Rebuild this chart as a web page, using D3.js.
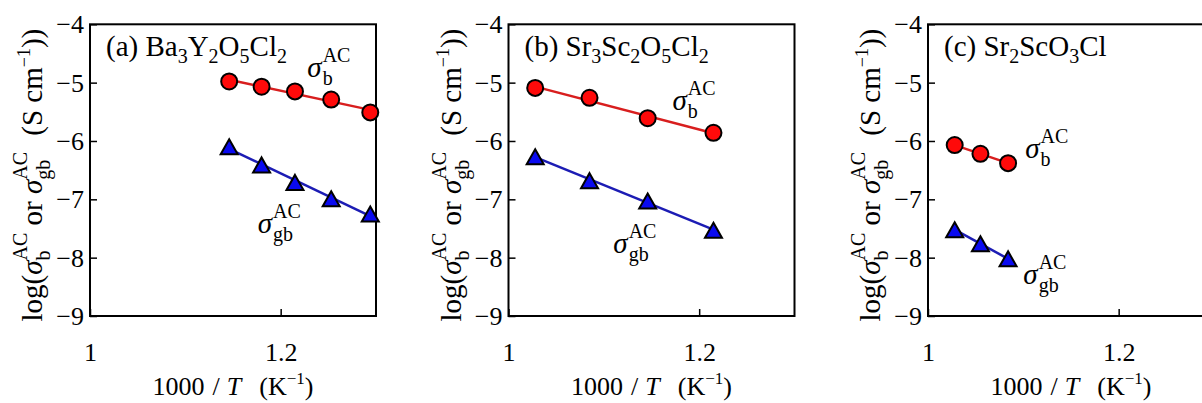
<!DOCTYPE html>
<html>
<head>
<meta charset="utf-8">
<script src="https://cdn.jsdelivr.net/npm/d3@7"></script>
<style>
html,body{margin:0;padding:0;background:#fff;overflow:hidden;}
svg{display:block;}
text{font-family:"Liberation Serif","Times New Roman",serif;fill:#000;}
</style>
</head>
<body>
<svg id="chart" width="1202" height="403"></svg>
<script>
// ---------- data ----------
const xTicks = [1, 1.2];
const xTickLabels = ["1", "1.2"];
const yTicks = [-4, -5, -6, -7, -8, -9];
const yTickLabels = ["\u22124", "\u22125", "\u22126", "\u22127", "\u22128", "\u22129"];

const titlesA = [["(a) Ba",""],["3","sub"],["Y",""],["2","sub"],["O",""],["5","sub"],["Cl",""],["2","sub"]];
const titlesB = [["(b) Sr",""],["3","sub"],["Sc",""],["2","sub"],["O",""],["5","sub"],["Cl",""],["2","sub"]];
const titlesC = [["(c) Sr",""],["2","sub"],["ScO",""],["3","sub"],["Cl",""]];

const xA = [1.146, 1.180, 1.215, 1.253, 1.294];
const bulkA = [-4.98, -5.07, -5.15, -5.29, -5.51];
const gbA = [-6.10, -6.41, -6.71, -6.99, -7.25];

const xB = [1.028, 1.085, 1.146, 1.215];
const bulkB = [-5.09, -5.26, -5.61, -5.86];
const gbB = [-6.27, -6.68, -7.03, -7.53];

const xC = [1.028, 1.055, 1.084];
const bulkC = [-6.07, -6.22, -6.38];
const gbC = [-7.52, -7.76, -8.02];

// label anchors (data units): [x, y] for sigma_b and sigma_gb
const labelB = [[1.228, -4.90], [1.172, -5.47], [1.102, -6.29]];
const labelGB = [[1.176, -7.57], [1.110, -7.92], [1.100, -8.46]];

const panels = [
  {title: titlesA, x: xA, bulk: bulkA, gb: gbA, lb: labelB[0], lgb: labelGB[0]},
  {title: titlesB, x: xB, bulk: bulkB, gb: gbB, lb: labelB[1], lgb: labelGB[1]},
  {title: titlesC, x: xC, bulk: bulkC, gb: gbC, lb: labelB[2], lgb: labelGB[2]}
];

// ---------- layout ----------
const panelLeft = [90, 508.5, 928];
const pw = 286, plotTop = 24.3, plotBottom = 316;
const FONT = "Liberation Serif";
const RED = "#ff0a0a", REDLINE = "#d81e1e", BLUE = "#0a0af0", BLUELINE = "#1c1cb4";

const svg = d3.select("#chart");
svg.append("rect").attr("width", 1202).attr("height", 403).attr("fill", "#fff");

// one <text> element with positioned tspans
function rich(g, x, y, segs, anchor) {
  const grp = g.append("g");
  const txt = grp.append("text").attr("font-family", FONT).attr("xml:space", "preserve");
  let cx = 0;
  function span(str, size, italic, dy) {
    const t = txt.append("tspan").attr("x", cx).attr("y", dy || 0)
      .style("font-size", size + "px")
      .style("font-style", italic ? "italic" : "normal")
      .text(str);
    return t.node().getComputedTextLength();
  }
  segs.forEach(s => {
    if (s.stack) {
      const w1 = span(s.stack[0], s.size, false, s.subShift);
      const w2 = span(s.stack[1], s.size, false, s.supShift);
      cx += Math.max(w1, w2) + (s.after || 0);
    } else {
      cx += span(s.t, s.size, s.italic, s.shift) + (s.after || 0);
    }
  });
  const off = anchor === "middle" ? -cx / 2 : 0;
  grp.attr("transform", `translate(${x + off},${y})`);
  return grp;
}

function sigma(sub, supSize, size) {
  return [
    {t: "\u03c3", size: size, italic: true, after: 1},
    {stack: [sub, "AC"], size: supSize, subShift: 8, supShift: -15}
  ];
}

panels.forEach((p, i) => {
  const L = panelLeft[i];
  const x = d3.scaleLinear().domain([1, 1.3]).range([L, L + pw]);
  const y = d3.scaleLinear().domain([-4, -9]).range([plotTop, plotBottom]);
  const g = svg.append("g");

  const yAxis = d3.axisLeft(y).tickValues(yTicks).tickSizeInner(-7).tickSizeOuter(0)
    .tickFormat((d, k) => yTickLabels[k]);
  const ya = g.append("g").attr("transform", `translate(${L},0)`).call(yAxis)
    .attr("font-family", FONT);
  ya.select(".domain").remove();
  ya.selectAll(".tick line").attr("stroke", "#000").attr("stroke-width", 1.5);
  ya.selectAll(".tick text").attr("x", -6).attr("dy", "0.33em")
    .attr("font-family", FONT).style("font-size", "26px").attr("fill", "#000");

  const xAxis = d3.axisBottom(x).tickValues(xTicks).tickSizeInner(-7).tickSizeOuter(0)
    .tickFormat((d, k) => xTickLabels[k]);
  const xa = g.append("g").attr("transform", `translate(0,${plotBottom})`).call(xAxis)
    .attr("font-family", FONT);
  xa.select(".domain").remove();
  xa.selectAll(".tick line").attr("stroke", "#000").attr("stroke-width", 1.5);
  xa.selectAll(".tick text").attr("y", 45).attr("dy", 0)
    .attr("font-family", FONT).style("font-size", "26px").attr("fill", "#000");

  g.append("rect").attr("x", L).attr("y", plotTop).attr("width", pw).attr("height", plotBottom - plotTop)
    .attr("fill", "none").attr("stroke", "#000").attr("stroke-width", 2);

  function fit(xs, ys) {
    const mx = d3.mean(xs), my = d3.mean(ys);
    const sxy = d3.sum(xs, (v, k) => (v - mx) * (ys[k] - my));
    const sxx = d3.sum(xs, v => (v - mx) * (v - mx));
    const m = sxy / sxx, c = my - m * mx;
    const ext = d3.extent(xs);
    return ext.map(v => [v, m * v + c]);
  }
  const line = d3.line().x(d => x(d[0])).y(d => y(d[1]));
  g.append("path").datum(fit(p.x, p.bulk)).attr("d", line)
    .attr("fill", "none").attr("stroke", REDLINE).attr("stroke-width", 2.5);
  g.append("path").datum(fit(p.x, p.gb)).attr("d", line)
    .attr("fill", "none").attr("stroke", BLUELINE).attr("stroke-width", 2.5);

  g.selectAll("circle.b").data(p.x).enter().append("circle")
    .attr("cx", d => x(d)).attr("cy", (d, k) => y(p.bulk[k])).attr("r", 8)
    .attr("fill", RED).attr("stroke", "#000").attr("stroke-width", 2);

  const tw = 17, th = 15;
  g.selectAll("path.gb").data(p.x).enter().append("path")
    .attr("d", (d, k) => {
      const cx = x(d), cy = y(p.gb[k]);
      return `M${cx},${cy - th / 2}L${cx + tw / 2},${cy + th / 2}L${cx - tw / 2},${cy + th / 2}Z`;
    })
    .attr("fill", BLUE).attr("stroke", "#000").attr("stroke-width", 2).attr("stroke-linejoin", "miter");

  const tsegs = p.title.map(s => s[1] === "sub" ? {t: s[0], size: 20, shift: 7} : {t: s[0], size: 29});
  rich(g, L + 16, 56, tsegs, "start");

  rich(g, x(p.lb[0]), y(p.lb[1]), sigma("b", 20, 29), "start");
  rich(g, x(p.lgb[0]), y(p.lgb[1]), sigma("gb", 20, 29), "start");

  rich(g, L + pw / 2, 395, [
    {t: "1000", size: 26, after: 8},
    {t: "/", size: 26, after: 7},
    {t: "T", size: 26, italic: true, after: 18},
    {t: "(K", size: 26},
    {t: "\u22121", size: 17, shift: -11},
    {t: ")", size: 26}
  ], "middle");

  const yl = g.append("g").attr("transform", `translate(${L - 48},${(plotTop + plotBottom) / 2 + 5}) rotate(-90)`);
  rich(yl, 0, 0, [
    {t: "log(", size: 29},
    {t: "\u03c3", size: 29, italic: true},
    {stack: ["b", "AC"], size: 20, subShift: 8, supShift: -15},
    {t: " or ", size: 29},
    {t: "\u03c3", size: 29, italic: true},
    {stack: ["gb", "AC"], size: 20, subShift: 8, supShift: -15, after: 9},
    {t: " (S cm", size: 29},
    {t: "\u22121", size: 18, shift: -12},
    {t: "))", size: 29}
  ], "middle");
});
</script>
</body>
</html>
